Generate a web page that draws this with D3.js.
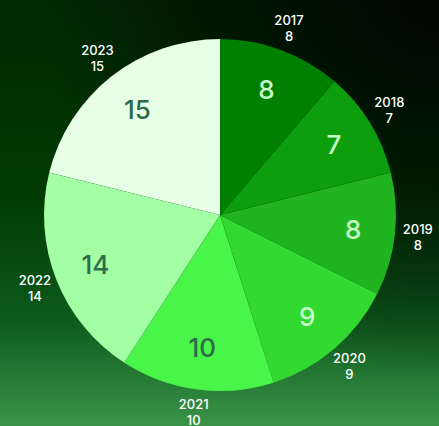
<!DOCTYPE html>
<html>
<head>
<meta charset="utf-8">
<script src="https://cdn.jsdelivr.net/npm/d3@7"></script>
<style>
  body { margin: 0; padding: 0; overflow: hidden; }
  svg { display: block; }
</style>
</head>
<body>
<div id="chart"></div>
<script>
var years = ["2017", "2018", "2019", "2020", "2021", "2022", "2023"];
var counts = [8, 7, 8, 9, 10, 14, 15];
var sliceColors = ["#008000", "#0d9e0d", "#20b520", "#31d931", "#4af54a", "#a3ffa3", "#e6ffe6"];
var innerTextColors = ["#c8ffc8", "#c8ffc8", "#c8ffc8", "#c8ffc8", "#2e6b46", "#2e6b46", "#2e6b46"];

var width = 439, height = 426;
var cx = 220, cy = 215, radius = 176;

var svg = d3.select("#chart")
    .append("svg")
    .attr("width", width)
    .attr("height", height);

var defs = svg.append("defs");

var bg = defs.append("linearGradient")
    .attr("id", "bg")
    .attr("x1", 0).attr("y1", 0).attr("x2", 0).attr("y2", 1);
bg.append("stop").attr("offset", "0%").attr("stop-color", "#012a01");
bg.append("stop").attr("offset", "45%").attr("stop-color", "#003a03");
bg.append("stop").attr("offset", "75%").attr("stop-color", "#0d5a1c");
bg.append("stop").attr("offset", "100%").attr("stop-color", "#3a9448");

var shade = defs.append("radialGradient")
    .attr("id", "shade")
    .attr("cx", 1).attr("cy", 0).attr("r", 0.9);
shade.append("stop").attr("offset", "0%").attr("stop-color", "#000").attr("stop-opacity", 0.85);
shade.append("stop").attr("offset", "60%").attr("stop-color", "#000").attr("stop-opacity", 0.45);
shade.append("stop").attr("offset", "100%").attr("stop-color", "#000").attr("stop-opacity", 0);

svg.append("rect").attr("width", width).attr("height", height).attr("fill", "url(#bg)");
svg.append("rect").attr("width", width).attr("height", height).attr("fill", "url(#shade)");

var data = years.map(function (y, i) { return { year: y, value: counts[i], i: i }; });

var pie = d3.pie()
    .sort(null)
    .value(function (d) { return d.value; });

var arc = d3.arc().innerRadius(0).outerRadius(radius);
var innerArc = d3.arc().innerRadius(134).outerRadius(134);
var outerArc = d3.arc().innerRadius(199).outerRadius(199);

var g = svg.append("g")
    .attr("transform", "translate(" + cx + "," + cy + ")");

var arcs = pie(data);

g.selectAll("path")
    .data(arcs)
    .enter()
    .append("path")
    .attr("d", arc)
    .attr("fill", function (d) { return sliceColors[d.data.i]; })
    .attr("stroke", "rgba(0,0,0,0.08)")
    .attr("stroke-width", 0.6);

g.selectAll(".inner")
    .data(arcs)
    .enter()
    .append("text")
    .attr("class", "inner")
    .attr("transform", function (d) { return "translate(" + innerArc.centroid(d) + ")"; })
    .attr("text-anchor", "middle")
    .attr("dy", "0.36em")
    .style("font-family", "Inter, 'DejaVu Sans', sans-serif")
    .style("font-size", "26px")
    .style("font-weight", 500)
    .attr("fill", function (d) { return innerTextColors[d.data.i]; })
    .text(function (d) { return d.data.value; });

var outer = g.selectAll(".outer")
    .data(arcs)
    .enter()
    .append("text")
    .attr("class", "outer")
    .attr("transform", function (d) { return "translate(" + outerArc.centroid(d) + ")"; })
    .attr("text-anchor", "middle")
    .style("font-family", "Inter, 'DejaVu Sans', sans-serif")
    .style("font-size", "13px")
    .style("font-weight", 500)
    .attr("fill", "#ffffff");

outer.append("tspan")
    .attr("x", 0)
    .attr("y", -3)
    .text(function (d) { return d.data.year; });
outer.append("tspan")
    .attr("x", 0)
    .attr("y", 13)
    .text(function (d) { return d.data.value; });
</script>
</body>
</html>
